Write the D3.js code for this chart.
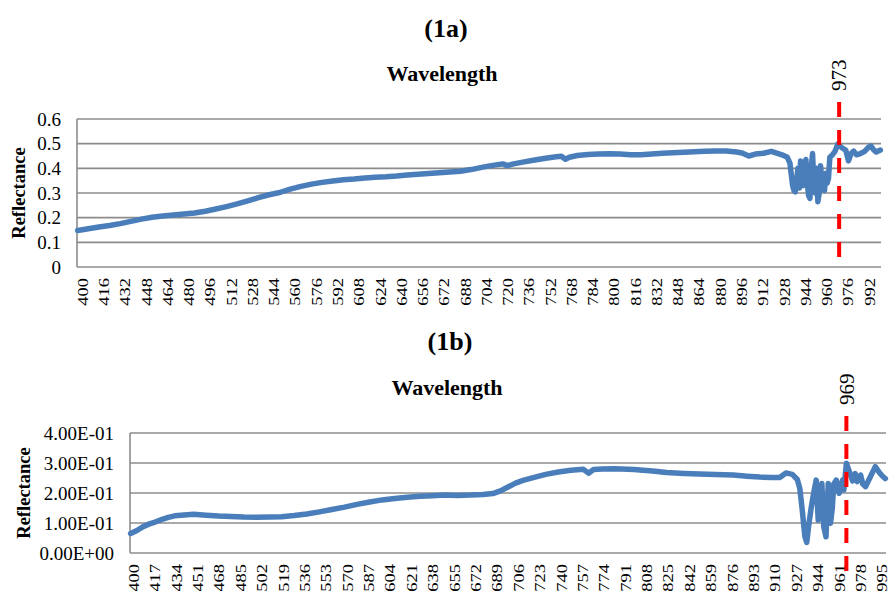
<!DOCTYPE html>
<html>
<head>
<meta charset="utf-8">
<script src="https://cdn.jsdelivr.net/npm/d3@7"></script>
<style>
  body { margin: 0; background: #fff; }
  svg text { font-family: "Liberation Serif", "Times New Roman", serif; fill: #000; }
</style>
</head>
<body>
<svg id="drawing_region"></svg>
<script>
// ---- data ----
const waveA = [400,408,416,424,432,440,448,456,464,472,480,488,496,504,512,520,528,536,544,552,560,568,576,584,592,600,608,616,624,632,640,648,656,664,672,680,688,696,704,710,716,720,723,728,736,744,752,760,764,767,770,776,784,792,800,808,816,824,832,840,848,856,864,872,880,888,896,900,905,910,916,922,926,930,934,936,938,939,940,942,943,944,945,946,947,948,949,950,951,952,953,954,955,956,957,958,959,960,961,962,963,964,965,966,968,970,972,974,976,978,980,982,984,986,989,992,995,997,999,1001,1003,1004]
const reflA = [.148,.155,.162,.168,.176,.185,.194,.202,.207,.211,.215,.219,.226,.235,.245,.256,.268,.281,.293,.302,.316,.327,.336,.343,.349,.354,.357,.361,.364,.366,.369,.373,.376,.379,.382,.385,.388,.395,.404,.410,.415,.418,.411,.418,.426,.434,.441,.447,.449,.437,.445,.452,.456,.458,.459,.458,.455,.455,.458,.461,.463,.465,.467,.469,.470,.470,.466,.462,.450,.458,.461,.469,.462,.455,.445,.420,.330,.310,.305,.400,.320,.430,.360,.330,.420,.435,.340,.290,.278,.400,.460,.330,.300,.400,.265,.300,.410,.350,.330,.310,.380,.340,.360,.445,.455,.470,.498,.488,.480,.474,.430,.460,.470,.455,.460,.468,.485,.490,.475,.466,.472,.474]

const waveB = [400,405,410,415,420,425,430,435,440,450,460,470,480,490,500,510,520,530,540,550,560,570,580,590,600,610,620,630,640,650,660,670,680,688,694,700,706,712,720,730,740,750,760,764,768,775,785,800,815,826,840,852,865,879,890,900,910,916,921,926,930,932,934,936,937.5,939,941,943,945,946.6,948,949.5,951,952.8,954.6,956.4,957.8,959,961,963.3,966,967,969,971.7,974,976,977.6,980.3,982,984.3,987,992,995.6,998,1000]
const reflB = [.065,.075,.088,.097,.104,.112,.119,.124,.126,.129,.126,.123,.122,.120,.119,.120,.121,.125,.130,.137,.145,.153,.162,.170,.177,.182,.186,.189,.191,.193,.192,.193,.195,.198,.207,.220,.233,.242,.251,.262,.270,.276,.279,.266,.278,.280,.281,.278,.273,.268,.265,.263,.262,.260,.256,.253,.252,.252,.267,.262,.245,.215,.140,.055,.035,.090,.150,.200,.243,.110,.180,.232,.088,.054,.232,.099,.150,.230,.243,.199,.243,.210,.299,.268,.240,.265,.238,.260,.230,.221,.245,.288,.266,.255,.248]

const xTicksA = d3.range(400, 1000, 16)
const xTicksB = d3.range(400, 1001, 17)
const yTicksA = [0, 0.1, 0.2, 0.3, 0.4, 0.5, 0.6]
const yTicksB = [0, 0.1, 0.2, 0.3, 0.4]
const markerA = 973
const markerB = 969

// Excel style scientific label, e.g. 4.00E-01
const sci = v => {
    const [m, e] = v.toExponential(2).split('e')
    const n = +e
    return m + 'E' + (n < 0 ? '-' : '+') + String(Math.abs(n)).padStart(2, '0')
}

const svg = d3.select('#drawing_region').attr('width', 890).attr('height', 591)

function drawPanel(cfg){
    const g = svg.append('g')

    const xscale = d3.scaleLinear().domain(cfg.xdomain).range([cfg.left, cfg.right])
    const yscale = d3.scaleLinear().domain([0, cfg.ymax]).range([cfg.bottom, cfg.top])

    // titles
    g.append('text')
        .attr('x', cfg.titleX).attr('y', cfg.titleY)
        .attr('text-anchor', 'middle')
        .attr('font-weight', 'bold').attr('font-size', 26)
        .text(cfg.title)
    g.append('text')
        .attr('x', cfg.subX).attr('y', cfg.subY)
        .attr('text-anchor', 'middle')
        .attr('font-weight', 'bold').attr('font-size', 22)
        .text('Wavelength')

    // gridlines
    g.selectAll('.grid').data(cfg.yticks).enter()
        .append('line')
        .attr('x1', cfg.left).attr('x2', cfg.right)
        .attr('y1', d => yscale(d)).attr('y2', d => yscale(d))
        .attr('stroke', '#8c8c8c').attr('stroke-width', 1.6)
    g.append('line')
        .attr('x1', cfg.left).attr('x2', cfg.left)
        .attr('y1', cfg.top).attr('y2', cfg.bottom)
        .attr('stroke', '#8c8c8c').attr('stroke-width', 1.6)

    // y tick labels
    g.selectAll('.ylab').data(cfg.yticks).enter()
        .append('text')
        .attr('x', cfg.left - 16)
        .attr('y', d => yscale(d))
        .attr('dy', '0.35em')
        .attr('text-anchor', 'end')
        .attr('font-size', 19)
        .text(cfg.yformat)

    // x tick labels (rotated, a bit narrow like the original)
    g.selectAll('.xlab').data(cfg.xticks).enter()
        .append('text')
        .attr('transform', d => `translate(${xscale(d) + cfg.labShift},${cfg.bottom + 11}) rotate(-90) scale(1,0.8)`)
        .attr('dy', '0.35em')
        .attr('text-anchor', 'end')
        .attr('font-size', 18.5)
        .text(d => d)

    // y axis title
    g.append('text')
        .attr('transform', `translate(${cfg.ytitleX},${(cfg.top + cfg.bottom) / 2}) rotate(-90)`)
        .attr('dy', '0.35em')
        .attr('text-anchor', 'middle')
        .attr('font-weight', 'bold').attr('font-size', 18.5)
        .text('Reflectance')

    // series
    const line = d3.line()
        .x((d, i) => xscale(cfg.wave[i]))
        .y(d => yscale(d))
    g.append('path')
        .attr('d', line(cfg.refl))
        .attr('fill', 'none')
        .attr('stroke', '#4a7ebb')
        .attr('stroke-width', 5.5)
        .attr('stroke-linejoin', 'round')
        .attr('stroke-linecap', 'round')

    // red marker
    const mx = xscale(cfg.marker)
    g.append('line')
        .attr('x1', mx).attr('x2', mx)
        .attr('y1', cfg.top - 17).attr('y2', cfg.top + 139)
        .attr('stroke', '#ff0000').attr('stroke-width', 4)
        .attr('stroke-dasharray', '15,13')
    g.append('text')
        .attr('transform', `translate(${mx},${cfg.top - 28}) rotate(-90)`)
        .attr('dy', '0.35em')
        .attr('text-anchor', 'start')
        .attr('font-size', 21)
        .text(cfg.marker)
}

drawPanel({
    title: '(1a)', titleX: 446, titleY: 37, subX: 442, subY: 81,
    left: 77, right: 881, top: 119, bottom: 267,
    xdomain: [399.5, 1004.5], ymax: 0.6,
    yticks: yTicksA, yformat: d => d, xticks: xTicksA, labShift: 5,
    ytitleX: 19, wave: waveA, refl: reflA, marker: markerA
})

drawPanel({
    title: '(1b)', titleX: 450, titleY: 350, subX: 447, subY: 395,
    left: 130, right: 886, top: 433, bottom: 553,
    xdomain: [399.5, 1000.5], ymax: 0.4,
    yticks: yTicksB, yformat: sci, xticks: xTicksB, labShift: 3,
    ytitleX: 24, wave: waveB, refl: reflB, marker: markerB
})
</script>
</body>
</html>
